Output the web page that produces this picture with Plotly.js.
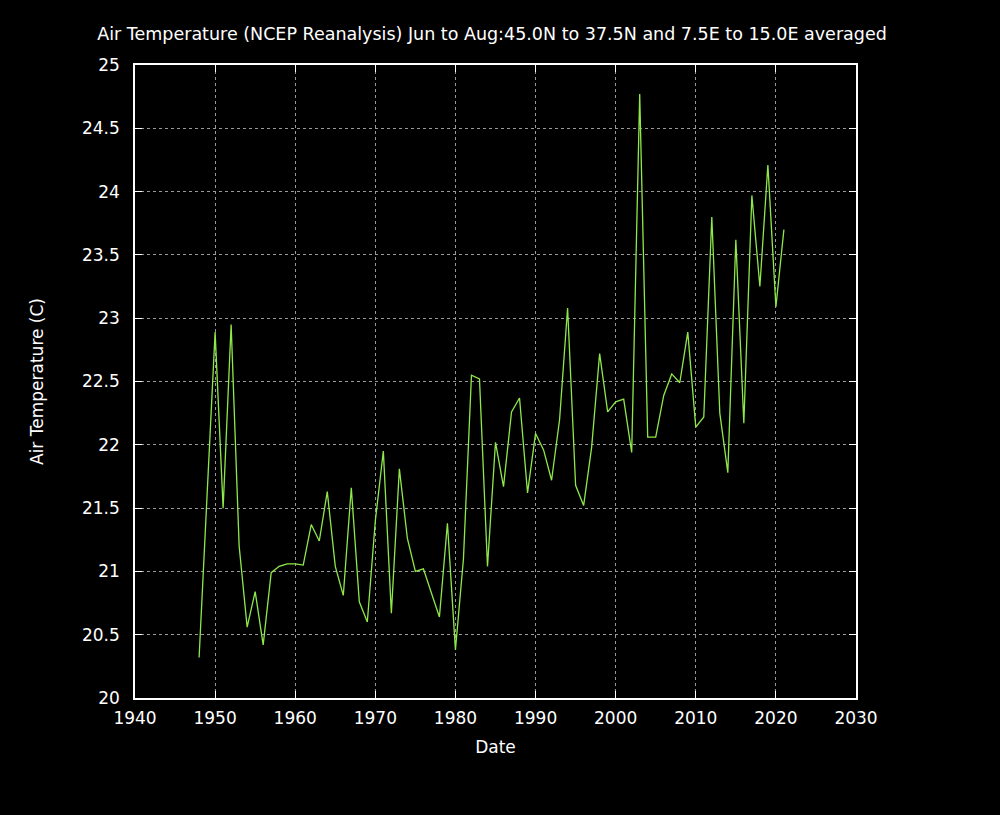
<!DOCTYPE html>
<html>
<head>
<meta charset="utf-8">
<script src="https://cdn.plot.ly/plotly-3.0.1.min.js"></script>
<style>html,body{margin:0;padding:0;background:#000;}#chart{width:1000px;height:815px;}</style>
</head>
<body>
<div id="chart"></div>
<script>
const years = [1948,1949,1950,1951,1952,1953,1954,1955,1956,1957,1958,1959,1960,1961,1962,1963,1964,1965,1966,1967,1968,1969,1970,1971,1972,1973,1974,1975,1976,1977,1978,1979,1980,1981,1982,1983,1984,1985,1986,1987,1988,1989,1990,1991,1992,1993,1994,1995,1996,1997,1998,1999,2000,2001,2002,2003,2004,2005,2006,2007,2008,2009,2010,2011,2012,2013,2014,2015,2016,2017,2018,2019,2020,2021];
const temps = [20.32,21.55,22.89,21.50,22.95,21.20,20.56,20.84,20.42,20.99,21.04,21.06,21.06,21.05,21.37,21.24,21.63,21.04,20.81,21.66,20.76,20.60,21.40,21.95,20.67,21.81,21.26,21.00,21.02,20.83,20.64,21.38,20.38,21.10,22.55,22.52,21.04,22.02,21.67,22.26,22.37,21.62,22.09,21.96,21.72,22.20,23.08,21.68,21.52,21.98,22.72,22.26,22.34,22.36,21.94,24.77,22.06,22.06,22.39,22.56,22.49,22.89,22.14,22.22,23.80,22.25,21.78,23.62,22.17,23.97,23.25,24.21,23.09,23.70];
const titleText = 'Air Temperature (NCEP Reanalysis) Jun to Aug:45.0N to 37.5N and 7.5E to 15.0E averaged';
const xTitle = 'Date';
const yTitle = 'Air Temperature (C)';

const axisCommon = {
  showline: true, linecolor: '#ffffff', linewidth: 1.5, mirror: 'ticks',
  ticks: 'inside', ticklen: 7, tickcolor: '#ffffff', tickwidth: 1,
  showgrid: true, gridcolor: '#9a9a9a', griddash: 'dot', gridwidth: 1,
  zeroline: false,
  tickfont: {family: 'DejaVu Sans', size: 17, color: '#ffffff'}
};

Plotly.newPlot('chart', [{
  x: years, y: temps, type: 'scatter', mode: 'lines',
  line: {color: '#8fe84a', width: 1.3}
}], {
  width: 1000, height: 815,
  paper_bgcolor: '#000000', plot_bgcolor: '#000000',
  margin: {l: 135, r: 144, t: 65, b: 117},
  showlegend: false,
  title: {text: titleText, font: {family: 'DejaVu Sans', size: 17.5, color: '#ffffff'}, x: 0.492, xanchor: 'center', y: 0.959, yanchor: 'middle'},
  xaxis: Object.assign({}, axisCommon, {
    range: [1940, 2030], dtick: 10, tick0: 1940, ticklabelstandoff: 4,
    title: {text: xTitle, font: {family: 'DejaVu Sans', size: 17, color: '#ffffff'}, standoff: 14}
  }),
  yaxis: Object.assign({}, axisCommon, {
    range: [20, 25], dtick: 0.5, tick0: 20, ticklabelstandoff: 10,
    title: {text: yTitle, font: {family: 'DejaVu Sans', size: 17, color: '#ffffff'}, standoff: 34}
  })
}, {displayModeBar: false});
</script>
</body>
</html>
